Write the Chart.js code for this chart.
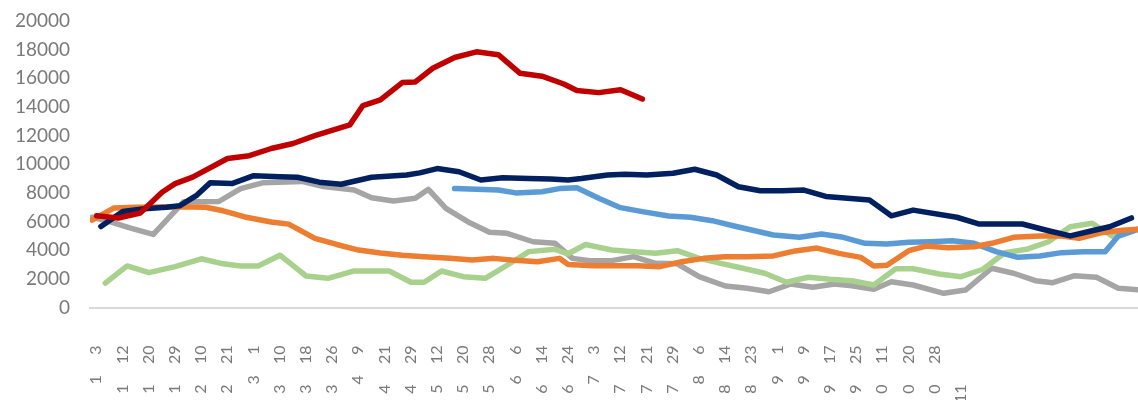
<!DOCTYPE html>
<html>
<head>
<meta charset="utf-8">
<script src="https://cdn.jsdelivr.net/npm/chart.js@4"></script>
<style>
  html, body { margin: 0; padding: 0; background: #fff; }
  #wrap { width: 1138px; height: 400px; position: relative; }
</style>
</head>
<body>
<div id="wrap"><canvas id="chart"></canvas></div>
<script>
// x axis: trading-day index, a tick label every 6 days
const tickMonths = ['1','1','1','1','2','2','3','3','3','3','4','4','4','5','5','5','6','6','6','7','7','7','7','8','8','8','9','9','9','9','0','0','0','11'];
const tickDays   = ['3','12','20','29','10','21','1','10','18','26','9','21','29','12','20','28','6','14','24','3','12','21','29','6','14','23','1','9','17','25','11','20','28',''];

const redDays = [1, 6, 11, 16, 19, 23, 31, 36, 41, 46, 51, 59, 62, 66, 71, 74, 78, 83, 88, 93, 98, 103, 108, 111, 116, 121, 126];
const redVals = [6400, 6250, 6600, 8050, 8650, 9100, 10400, 10600, 11100, 11450, 12000, 12750, 14100, 14500, 15700, 15750, 16700, 17450, 17850, 17650, 16350, 16150, 15600, 15150, 15000, 15200, 14550];

const navyDays = [2, 7, 12, 17, 20, 24, 27, 32, 37, 43, 47, 52, 57, 64, 72, 75, 79, 84, 89, 94, 100, 105, 109, 112, 118, 122, 127, 133, 138, 143, 148, 153, 158, 163, 168, 178, 183, 188, 198, 203, 213, 219, 224, 229, 233, 238];
const navyVals = [5650, 6700, 6900, 7000, 7100, 7850, 8700, 8650, 9200, 9130, 9090, 8750, 8600, 9090, 9250, 9400, 9700, 9480, 8900, 9050, 9000, 8970, 8900, 9000, 9250, 9300, 9250, 9370, 9650, 9250, 8430, 8150, 8150, 8200, 7750, 7500, 6400, 6800, 6300, 5830, 5830, 5360, 5000, 5360, 5640, 6250];

const orangeDays = [0, 5, 10, 15, 20, 26, 30, 35, 41, 45, 51, 56, 61, 66, 71, 76, 82, 87, 92, 96, 102, 107, 109, 115, 120, 125, 130, 135, 140, 145, 150, 156, 161, 166, 171, 176, 179, 182, 187, 191, 196, 202, 206, 211, 217, 222, 226, 231, 236, 240];
const orangeVals = [6100, 6950, 7000, 7020, 7030, 7000, 6750, 6320, 5970, 5820, 4830, 4400, 4010, 3800, 3650, 3550, 3430, 3320, 3430, 3320, 3200, 3430, 3000, 2920, 2920, 2920, 2850, 3200, 3430, 3550, 3550, 3600, 3950, 4150, 3780, 3500, 2900, 2950, 3965, 4290, 4175, 4245, 4480, 4900, 4990, 4990, 4830, 5220, 5400, 5480];

const blueDays = [83, 88, 93, 97, 103, 107, 111, 116, 121, 126, 132, 137, 142, 147, 151, 156, 162, 167, 172, 177, 182, 187, 192, 197, 202, 207, 212, 217, 222, 227, 232, 235, 240];
const blueVals = [8300, 8250, 8200, 8000, 8080, 8300, 8360, 7620, 6970, 6690, 6390, 6300, 6060, 5690, 5410, 5060, 4900, 5130, 4900, 4480, 4430, 4550, 4590, 4660, 4480, 3900, 3500, 3600, 3830, 3900, 3900, 4990, 5500];

const greenDays = [3, 8, 13, 19, 25, 30, 34, 38, 43, 49, 54, 60, 68, 73, 76, 80, 85, 90, 95, 100, 106, 109, 113, 119, 124, 129, 134, 139, 144, 149, 154, 159, 164, 169, 174, 179, 184, 188, 194, 199, 204, 209, 214, 219, 224, 229, 234, 240];
const greenVals = [1700, 2900, 2430, 2850, 3400, 3050, 2900, 2900, 3650, 2200, 2040, 2550, 2550, 1760, 1760, 2550, 2150, 2040, 2950, 3900, 4060, 3750, 4400, 4010, 3900, 3780, 3965, 3430, 3085, 2740, 2390, 1760, 2110, 1970, 1870, 1570, 2700, 2700, 2340, 2150, 2670, 3825, 4060, 4590, 5640, 5880, 4900, 5530];

const grayDays = [0, 4, 9, 14, 21, 29, 34, 39, 48, 53, 60, 64, 69, 74, 77, 81, 86, 91, 95, 101, 106, 110, 114, 119, 124, 129, 134, 139, 145, 150, 155, 160, 165, 170, 174, 179, 183, 188, 195, 200, 206, 211, 216, 220, 225, 230, 235, 240];
const grayVals = [6300, 6000, 5530, 5100, 7385, 7400, 8300, 8700, 8800, 8450, 8200, 7660, 7430, 7620, 8250, 6920, 5990, 5250, 5180, 4590, 4480, 3430, 3270, 3270, 3550, 3085, 3050, 2150, 1500, 1340, 1100, 1640, 1420, 1640, 1520, 1270, 1800, 1570, 990, 1220, 2740, 2390, 1870, 1730, 2220, 2110, 1340, 1220];

const TICK_STEP = 6;
const GAP = '     ';

function pts(days, vals) {
  return days.map((d, i) => ({ x: d, y: vals[i] }));
}

function line(data, color) {
  return {
    data: data,
    borderColor: color,
    backgroundColor: color,
    borderWidth: 5.5,
    borderCapStyle: 'round',
    borderJoinStyle: 'round',
    pointRadius: 0,
    tension: 0,
    fill: false
  };
}

// last label has no day part, keep the month in the same row with figure spaces
const xLabels = tickMonths.map((m, i) => m + GAP + (tickDays[i] || '\u2007\u2007'));

Chart.defaults.font.family = 'Lato, "Open Sans", sans-serif';

new Chart(document.getElementById('chart'), {
  type: 'line',
  data: {
    datasets: [
      line(pts(redDays, redVals), '#c00000'),
      line(pts(navyDays, navyVals), '#002060'),
      line(pts(orangeDays, orangeVals), '#ed7d31'),
      line(pts(blueDays, blueVals), '#5b9bd5'),
      line(pts(greenDays, greenVals), '#a9d18e'),
      line(pts(grayDays, grayVals), '#a5a5a5')
    ]
  },
  options: {
    responsive: true,
    maintainAspectRatio: false,
    animation: false,
    layout: { padding: 0 },
    plugins: {
      legend: { display: false },
      tooltip: { enabled: false }
    },
    scales: {
      x: {
        type: 'linear',
        min: -0.5,
        max: 239.5,
        afterBuildTicks: function (scale) {
          scale.ticks = xLabels.map((l, i) => ({ value: i * TICK_STEP }));
        },
        afterFit: function (scale) {
          scale.height = 92.5;
        },
        ticks: {
          autoSkip: false,
          minRotation: 90,
          maxRotation: 90,
          padding: 38,
          labelOffset: 4,
          color: '#7a7a7a',
          font: { size: 16 },
          callback: function (value, index) {
            return xLabels[index];
          }
        },
        grid: { display: false, drawTicks: false },
        border: { display: true, color: '#d9d9d9', width: 2 }
      },
      y: {
        min: 0,
        max: 20000,
        afterFit: function (scale) {
          scale.width = 90;
          // tick padding would otherwise push the plot top down
          scale.paddingTop = 21;
          scale.paddingBottom = 0;
        },
        ticks: {
          stepSize: 2000,
          padding: 20,
          color: '#7a7a7a',
          font: { size: 19 },
          callback: function (value) {
            return String(value);
          }
        },
        grid: { display: false, drawTicks: false },
        border: { display: false }
      }
    }
  }
});
</script>
</body>
</html>
